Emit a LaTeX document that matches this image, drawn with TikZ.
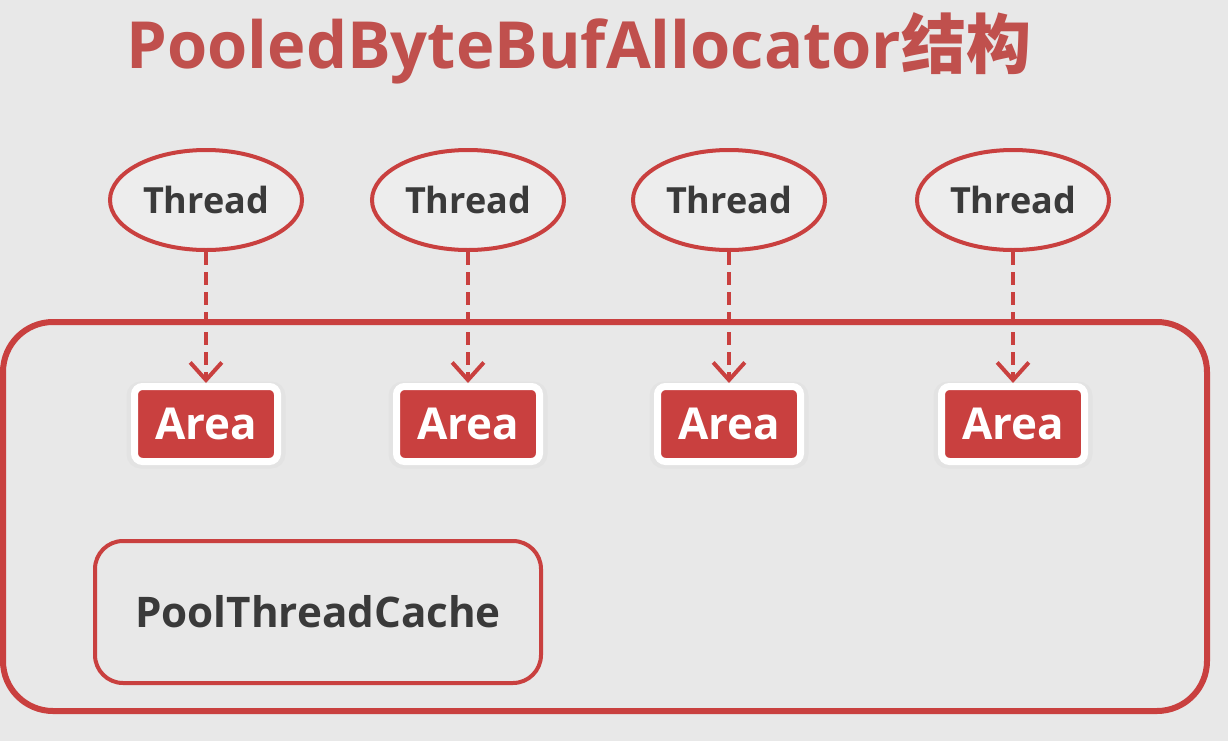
\documentclass[tikz,border=0pt]{standalone}
\usepackage{fontspec}
\setmainfont{Open Sans}
\newfontfamily\cjkfont{Noto Sans CJK SC}
\usepackage{xcolor}
\usetikzlibrary{arrows.meta}
\usetikzlibrary{shapes.geometric}

\definecolor{pagegray}{HTML}{E8E8E8}
\definecolor{slidered}{HTML}{C9403F}
\definecolor{titlered}{HTML}{C0504D}
\definecolor{textgray}{HTML}{3A3A3A}

\begin{document}
\begin{tikzpicture}[x=0.02cm,y=-0.02cm,
    threadnode/.style={ellipse,draw=slidered,line width=4*0.02cm,fill=pagegray!80!white,
      minimum width=192*0.02cm,minimum height=100*0.02cm,inner sep=0pt,
      text=textgray,font=\bfseries\fontsize{20.5}{24}\selectfont},
    areanode/.style={rectangle,rounded corners=8*0.02cm,fill=slidered,draw=white,
      line width=7*0.02cm,minimum width=143*0.02cm,minimum height=75*0.02cm,inner sep=0pt,
      text=white,font=\bfseries\fontsize{25}{28}\selectfont},
    cachenode/.style={rectangle,rounded corners=28*0.02cm,draw=slidered,line width=4*0.02cm,
      minimum width=446*0.02cm,minimum height=142*0.02cm,inner sep=0pt,
      text=textgray,font=\bfseries\fontsize{24}{28}\selectfont},
    usearrow/.style={draw=slidered,line width=4*0.02cm,dash pattern=on 13*0.02cm off 7*0.02cm,
      -{Straight Barb[length=10pt,width=18pt,line width=4*0.02cm]}}]
    \useasboundingbox[fill=pagegray] (0,0) rectangle (1228,741);
    \node[text=titlered,font=\bfseries\fontsize{37}{43}\selectfont] (title) at (579,48)
      {PooledByteBufAllocator{\cjkfont\bfseries 结构}};
    % the big allocator frame
    \draw[slidered,line width=6*0.02cm,rounded corners=50*0.02cm] (3,322) rectangle (1207,711);
    \foreach \n/\xt/\xa in {1/206/206,2/468/468,3/729/729,4/1013/1013}{
      \node[threadnode] (thread\n) at (\xt,200) {Thread};
      \draw[gray!22,line width=9*0.02cm,rounded corners=10*0.02cm]
        (\xa-75,386) rectangle (\xa+75,464);
      \node[areanode] (area\n) at (\xa,424) {Area};
      \draw[usearrow] (thread\n.south) -- (area\n.north);
    }
    \node[cachenode] (cache) at (318,612) {PoolThreadCache};
\end{tikzpicture}
\end{document}
